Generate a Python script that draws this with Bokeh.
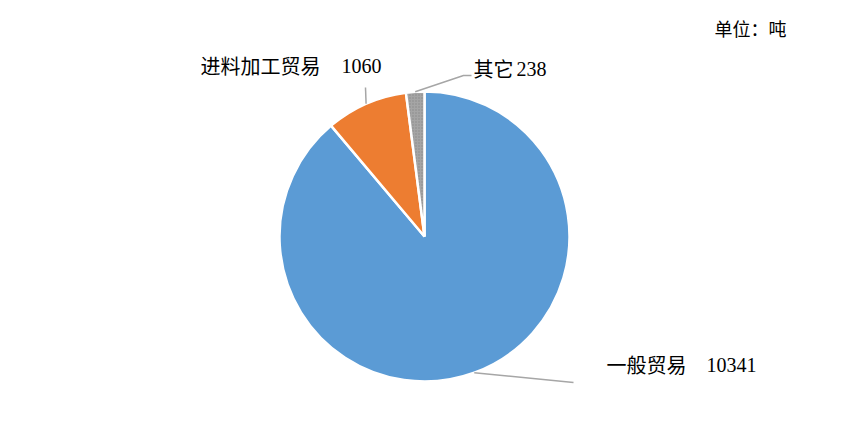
import numpy as np
from bokeh.plotting import figure
from bokeh.models import Range1d
from bokeh.core.properties import value
from bokeh.embed import file_html
from bokeh.resources import INLINE

# ---- data ----
categories = ["一般贸易", "进料加工贸易", "其它"]
values = [10341, 1060, 238]
colors = ["#5B9BD5", "#ED7D31", "#A5A5A5"]
unit_text = "单位：吨"

# ---- layout ----
W, H = 831, 413
def sy(s):  # screen y -> data y
    return 429 - s

cx, cy, r = 424, sy(236), 145
CJK_FONT = "Noto Sans CJK SC"
NUM_FONT = "Liberation Serif"

p = figure(width=W, height=H, x_range=Range1d(0, W), y_range=Range1d(429 - H, 429),
           output_backend="svg", toolbar_location=None, min_border=0)
p.axis.visible = False
p.grid.visible = False
p.outline_line_color = None
p.background_fill_color = "white"

total = float(sum(values))
cum = np.cumsum([0] + values)
starts = [np.pi / 2 - 2 * np.pi * cum[i] / total for i in range(len(values))]
ends = [np.pi / 2 - 2 * np.pi * cum[i + 1] / total for i in range(len(values))]
mids = [np.pi / 2 - 2 * np.pi * (cum[i] + values[i] / 2) / total for i in range(len(values))]

for i in range(len(values)):
    kw = {}
    if i == 2:
        kw = dict(hatch_pattern=".", hatch_scale=3, hatch_color="#8a8a8a", hatch_weight=1)
    p.wedge(x=cx, y=cy, radius=r, start_angle=starts[i], end_angle=ends[i],
            direction="clock", fill_color=colors[i], line_color="white", line_width=2.5, **kw)

# leader lines
leader_ends = [
    [(573, 382)],
    [(365, 87)],
    [(463, 75), (471, 75)],
]
for i in range(len(values)):
    ax = cx + r * np.cos(mids[i])
    ay = cy + r * np.sin(mids[i])
    xs = [ax] + [pt[0] for pt in leader_ends[i]]
    ys = [ay] + [sy(pt[1]) for pt in leader_ends[i]]
    p.line(xs, ys, line_color="#A6A6A6", line_width=1.5)

name_pos = [(606, 364), (200, 65), (473, 68)]
num_pos = [(706, 364), (341, 65), (516, 68)]
for i in range(len(values)):
    p.text(x=[name_pos[i][0]], y=[sy(name_pos[i][1])], text=[categories[i]],
           text_font=value(CJK_FONT), text_font_size="20px", text_color="black",
           text_align="left", text_baseline="middle")
    p.text(x=[num_pos[i][0]], y=[sy(num_pos[i][1])], text=[str(values[i])],
           text_font=value(NUM_FONT), text_font_size="20px", text_color="black",
           text_align="left", text_baseline="middle")

p.text(x=[714], y=[sy(27)], text=[unit_text], text_font=value(CJK_FONT),
       text_font_size="18px", text_color="black", text_align="left", text_baseline="middle")

open("out.html", "w").write(file_html(p, INLINE))
